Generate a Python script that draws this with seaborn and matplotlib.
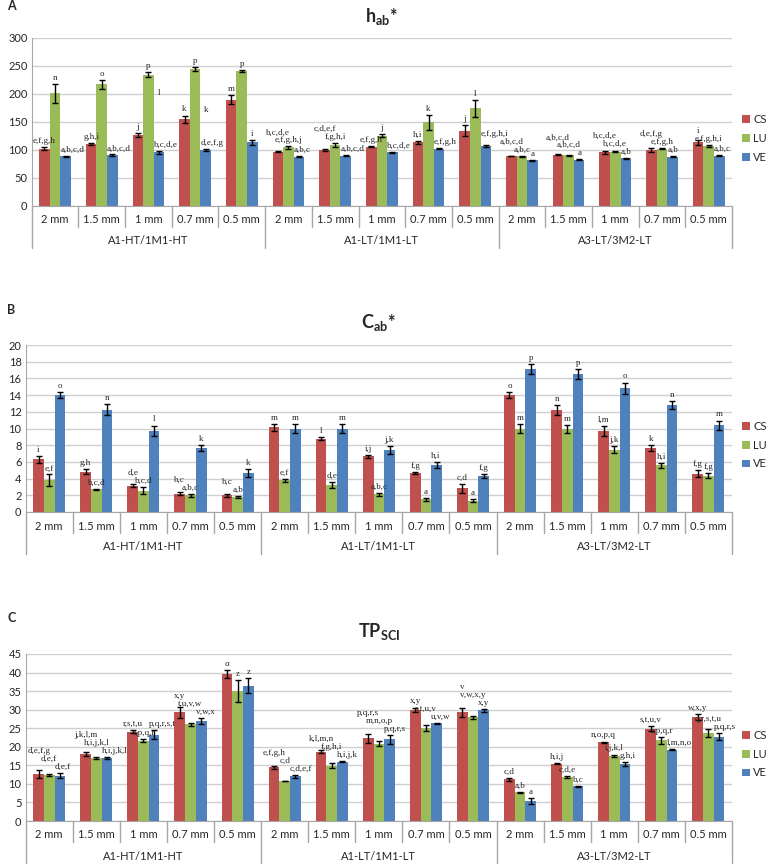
import numpy as np
import pandas as pd
import seaborn as sns
import matplotlib.pyplot as plt
from matplotlib.transforms import blended_transform_factory

sns.set_style("white")
plt.rcParams['font.family'] = ['Lato', 'DejaVu Sans']
plt.rcParams['mathtext.fontset'] = 'custom'
plt.rcParams['mathtext.rm'] = 'Lato'
plt.rcParams['mathtext.bf'] = 'Lato:bold'

groups = ['A1-HT/1M1-HT', 'A1-LT/1M1-LT', 'A3-LT/3M2-LT']
sizes = ['2 mm', '1.5 mm', '1 mm', '0.7 mm', '0.5 mm']
series = ['CS', 'LU', 'VE']
colors = ['#C0504D', '#9BBB59', '#4F81BD']

# A - hab*
hab_cs = [102, 110, 126, 154, 189, 96, 99.5, 105, 113, 134, 88.5, 91, 95, 99.5, 113]
hab_lu = [201, 217, 234, 244, 241, 104, 108, 125, 149, 174, 88, 90, 96, 102, 107]
hab_ve = [88.5, 90.5, 95, 99, 113, 87.5, 89, 95, 102, 106.5, 81, 82, 85, 87.5, 89]
hab_cs_err = [2, 2, 3, 7, 8, 1, 2, 1, 3, 10, 0.5, 1, 2, 3, 5]
hab_lu_err = [17, 8, 4, 3, 2, 2, 4, 3, 13, 15, 0.5, 1, 1, 1, 2]
hab_ve_err = [1, 1, 2, 2, 4, 1, 1, 1, 1, 2, 1, 1, 1, 1, 1]
hab_cs_lab = ['e,f,g,h', 'g,h,i', 'j', 'k', 'm', 'b,c,d,e', 'c,d,e,f', 'e,f,g,h', 'h,i', 'j',
              'a,b,c,d', 'a,b,c,d', 'b,c,d,e', 'd,e,f,g', 'i']
hab_lu_lab = ['n', 'o', 'p', 'p', 'p', 'e,f,g,h,j', 'f,g,h,i', 'j', 'k', 'l',
              'a,b,c', 'a,b,c,d', 'b,c,d,e', 'e,f,g,h', 'e,f,g,h,i']
hab_ve_lab = ['a,b,c,d', 'a,b,c,d', 'b,c,d,e', 'd,e,f,g', 'i', 'a,b,c', 'a,b,c,d', 'b,c,d,e', 'e,f,g,h', 'e,f,g,h,i',
              'a', 'a', 'a,b', 'a,b', 'a,b,c']
# stray letters floating in panel A (bar index, value)
hab_extra = [(2, 194, 'l'), (3, 163, 'k')]

# B - Cab*
cab_cs = [6.3, 4.85, 3.15, 2.2, 2.0, 10.15, 8.8, 6.65, 4.65, 2.85, 14.0, 12.2, 9.75, 7.7, 4.6]
cab_lu = [3.8, 2.7, 2.55, 2.0, 1.8, 3.8, 3.2, 2.1, 1.5, 1.35, 10.0, 9.95, 7.45, 5.6, 4.35]
cab_ve = [14.0, 12.25, 9.75, 7.7, 4.65, 10.0, 10.0, 7.45, 5.6, 4.35, 17.1, 16.5, 14.8, 12.8, 10.4]
cab_cs_err = [0.45, 0.25, 0.2, 0.2, 0.2, 0.4, 0.2, 0.2, 0.15, 0.55, 0.35, 0.6, 0.6, 0.35, 0.45]
cab_lu_err = [0.7, 0.1, 0.45, 0.2, 0.15, 0.15, 0.35, 0.15, 0.15, 0.15, 0.5, 0.45, 0.4, 0.3, 0.3]
cab_ve_err = [0.35, 0.65, 0.6, 0.35, 0.45, 0.5, 0.5, 0.45, 0.35, 0.25, 0.6, 0.6, 0.7, 0.45, 0.55]
cab_cs_lab = ['i', 'g,h', 'd,e', 'b,c', 'b,c', 'm', 'l', 'i,j', 'f,g', 'c,d', 'o', 'n', 'l,m', 'k', 'f,g']
cab_lu_lab = ['e,f', 'b,c,d', 'b,c,d', 'a,b,c', 'a,b', 'e,f', 'd,e', 'a,b,c', 'a', 'a',
              'm', 'm', 'j,k', 'h,i', 'f,g']
cab_ve_lab = ['o', 'n', 'l', 'k', 'k', 'm', 'm', 'j,k', 'h,i', 'f,g', 'p', 'p', 'o', 'n', 'm']

# C - TPsci
tp_cs = [12.6, 18.1, 24.1, 29.3, 39.6, 14.5, 18.7, 22.3, 29.9, 29.3, 11.2, 15.45, 21.2, 24.9, 28.0]
tp_lu = [12.4, 16.9, 21.6, 26.1, 35.0, 10.8, 14.9, 20.8, 25.0, 27.9, 7.7, 11.8, 17.6, 21.7, 23.8]
tp_ve = [12.2, 16.9, 23.3, 27.0, 36.4, 12.1, 16.0, 22.0, 26.3, 29.8, 5.4, 9.3, 15.3, 19.2, 22.7]
tp_cs_err = [1.1, 0.5, 0.5, 1.5, 1.2, 0.4, 0.5, 1.2, 0.5, 1.2, 0.4, 0.2, 0.2, 0.6, 0.7]
tp_lu_err = [0.2, 0.3, 0.4, 0.4, 3.0, 0.1, 0.6, 0.7, 0.8, 0.5, 0.2, 0.3, 0.3, 1.0, 1.1]
tp_ve_err = [0.7, 0.3, 1.1, 0.8, 2.0, 0.4, 0.2, 1.2, 0.2, 0.3, 0.8, 0.2, 0.5, 0.2, 0.9]
tp_cs_lab = ['d,e,f,g', 'j,k,l,m', 'r,s,t,u', 'x,y', 'α', 'e,f,g,h', 'k,l,m,n', 'p,q,r,s', 'x,y', 'v',
             'c,d', 'h,i,j', 'n,o,p,q', 's,t,u,v', 'w,x,y']
tp_lu_lab = ['d,e,f', 'h,i,j,k,l', 'o,p,q,r', 't,u,v,w', 'z', 'c,d', 'f,g,h,i', 'm,n,o,p', 's,t,u,v', 'v,w,x,y',
             'a,b', 'c,d,e', 'i,j,k,l', 'o,p,q,r', 'q,r,s,t,u']
tp_ve_lab = ['d,e,f', 'h,i,j,k,l', 'p,q,r,s,t', 'v,w,x', 'z', 'c,d,e,f', 'h,i,j,k', 'p,q,r,s', 'u,v,w', 'x,y',
             'a', 'b,c', 'g,h,i', 'l,m,n,o', 'p,q,r,s']

W, H = 770, 866
fig = plt.figure(figsize=(W / 100, H / 100), dpi=100)
cats = [g + '|' + s for g in groups for s in sizes]
gray = '#a6a6a6'
all_labels = []


def draw_panel(rect, vals, errs, labs, ymax, ystep, title, pad, letter, letter_y, extra=()):
    ax = fig.add_axes([rect[0] / W, 1 - rect[3] / H, (rect[2] - rect[0]) / W, (rect[3] - rect[1]) / H])
    df = pd.DataFrame({'cat': np.tile(cats, 3),
                       'series': np.repeat(series, len(cats)),
                       'value': np.concatenate(vals)})
    sns.barplot(data=df, x='cat', y='value', hue='series', order=cats, hue_order=series,
                palette=colors, saturation=1, width=0.68, errorbar=None, linewidth=0, ax=ax)
    bars = list(ax.containers[:3])
    anns = {}
    for k, (cont, v, e, lab) in enumerate(zip(bars, vals, errs, labs)):
        xs = [b.get_x() + b.get_width() / 2 for b in cont]
        ax.errorbar(xs, v, yerr=e, fmt='none', ecolor='black', elinewidth=1, capsize=2, capthick=1)
        for i, (b, x, vi, ei, t) in enumerate(zip(cont, xs, v, e, lab)):
            # VE labels sit left-aligned on the bar, the others centred
            if k == 2 and len(t) > 1:
                x, ha = b.get_x(), 'left'
            else:
                ha = 'center'
            anns[(i, k)] = ax.annotate(t, (x, vi + ei), xytext=(0, 1.5), textcoords='offset points',
                                       ha=ha, va='bottom', fontsize=6.5, family='Liberation Serif')
    all_labels.append([anns[key] for key in sorted(anns)])
    for i, y, t in extra:
        b = bars[2][i]
        ax.text(b.get_x() + b.get_width() / 2, y, t, ha='center', va='bottom',
                fontsize=6.5, family='Liberation Serif')

    ax.set_xlim(-0.5, len(cats) - 0.5)
    ax.set_ylim(0, ymax)
    ax.set_yticks(np.arange(0, ymax + 1e-9, ystep))
    ax.yaxis.grid(True, color='#cfcfcf', lw=1)
    ax.set_axisbelow(True)
    ax.set_xticks([])
    ax.set_xlabel('')
    ax.set_ylabel('')
    for s in ['top', 'right']:
        ax.spines[s].set_visible(False)
    for s in ['left', 'bottom']:
        ax.spines[s].set_color(gray)
    ax.tick_params(axis='y', length=0, labelsize=8, pad=3)
    ax.set_title(title, fontsize=13, fontweight='bold', pad=pad)

    # two-level category axis
    hpx = rect[3] - rect[1]
    tr = blended_transform_factory(ax.transData, ax.transAxes)
    for i in range(len(cats) + 1):
        depth = 42 if i % 5 == 0 else 21
        ax.plot([i - 0.5, i - 0.5], [0, -depth / hpx], transform=tr, color=gray, lw=1, clip_on=False)
    for i, c in enumerate(cats):
        ax.text(i, -14 / hpx, c.split('|')[1], transform=tr, ha='center', va='center', fontsize=8)
    for j, g in enumerate(groups):
        ax.text(5 * j + 2, -35 / hpx, g, transform=tr, ha='center', va='center', fontsize=8)

    sns.move_legend(ax, 'center left', bbox_to_anchor=(1.0, 0.40), frameon=False, title=None,
                    fontsize=8, handlelength=0.7, handleheight=0.7, handletextpad=0.3,
                    labelspacing=0.7, borderaxespad=0.5)
    fig.text(7 / W, 1 - letter_y / H, letter, fontsize=9, fontweight='bold', va='center')
    return ax


draw_panel((31.7, 37.7, 732, 205.7), [hab_cs, hab_lu, hab_ve], [hab_cs_err, hab_lu_err, hab_ve_err],
           [hab_cs_lab, hab_lu_lab, hab_ve_lab], 300, 50, r'$\mathbf{h_{ab}}$*', 11, 'A', 6, hab_extra)
draw_panel((25.7, 345, 732, 512), [cab_cs, cab_lu, cab_ve], [cab_cs_err, cab_lu_err, cab_ve_err],
           [cab_cs_lab, cab_lu_lab, cab_ve_lab], 20, 2, r'$\mathbf{C_{ab}}$*', 12, 'B', 310)
draw_panel((25.7, 654, 732, 821), [tp_cs, tp_lu, tp_ve], [tp_cs_err, tp_lu_err, tp_ve_err],
           [tp_cs_lab, tp_lu_lab, tp_ve_lab], 45, 5, r'$\mathbf{TP_{SCI}}$', 12, 'C', 618)

# stack clashing letter labels: the left label goes above the one on its right
fig.canvas.draw()
r = fig.canvas.get_renderer()
for anns in all_labels:
    placed = []
    for ann in reversed(anns):
        for _ in range(6):
            bb = ann.get_window_extent(r).expanded(1.0, 0.85)
            hit = [p for p in placed if p.overlaps(bb)]
            if not hit:
                break
            lift = max(p.y1 for p in hit) - ann.get_window_extent(r).y0 + 0.5
            ox, oy = ann.xyann
            ann.xyann = (ox, oy + lift * 72 / fig.dpi)
        placed.append(ann.get_window_extent(r).expanded(1.0, 0.85))

fig.savefig('out.png', dpi=100)
